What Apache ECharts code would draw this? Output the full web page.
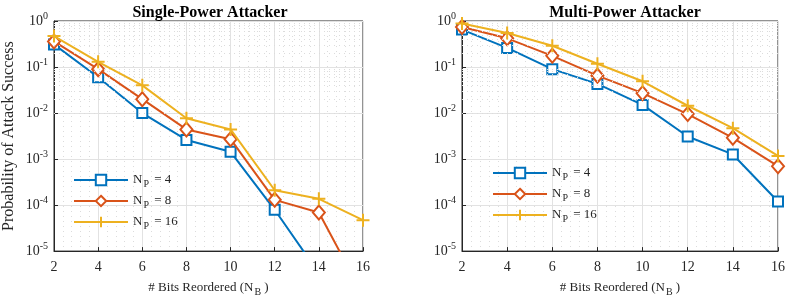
<!DOCTYPE html>
<html lang="en">
<head>
    <meta charset="UTF-8">
    <title>Attack Success</title>
    <script src="https://cdn.jsdelivr.net/npm/echarts@6.0.0/dist/echarts.min.js"></script>
    <style>
        html, body { margin: 0; padding: 0; background: #fff; }
        #chart { width: 788px; height: 302px; }
    </style>
</head>
<body>
<div id="chart"></div>
<script>
    // data
    var bits = [2, 4, 6, 8, 10, 12, 14, 16];
    var npNames = ['4', '8', '16'];
    var single4 = [0.31, 0.06, 0.010, 0.0026, 0.00144, 7.9e-5, 3.3e-6];
    var single8 = [0.36, 0.09, 0.02, 0.0044, 0.0027, 1.3e-4, 6.9e-5, 1.1e-6];
    var single16 = [0.47, 0.13, 0.04, 0.0077, 0.0044, 2.1e-4, 1.37e-4, 4.7e-5];
    var multi4 = [0.65, 0.26, 0.09, 0.043, 0.015, 0.0031, 0.00126, 1.2e-4];
    var multi8 = [0.74, 0.42, 0.175, 0.065, 0.027, 0.0095, 0.0029, 7e-4];
    var multi16 = [0.88, 0.55, 0.29, 0.118, 0.049, 0.0144, 0.0047, 0.00117];
    var titles = ['Single-Power Attacker', 'Multi-Power Attacker'];

    var colors = ['#0072BD', '#D95319', '#EDB120'];
    var symbols = ['emptyRect', 'emptyDiamond', 'path://M0,5L10,5M5,0L5,10'];
    var symbolSizes = [10, [12, 14], 13];
    var font = 'Liberation Serif, Times New Roman, serif';

    var myChart = echarts.init(document.getElementById('chart'));

    function pairs(ys) {
        var out = [];
        ys.forEach(function (y, i) { out.push([bits[i], y]); });
        return out;
    }

    // minor grid lines for the log axis (2..9 x 10^k)
    var minorLines = [];
    for (var k = -5; k < 0; k++) {
        for (var m = 2; m <= 9; m++) {
            minorLines.push({ yAxis: m * Math.pow(10, k) });
        }
    }

    function xAxisFor(idx) {
        return {
            type: 'value', gridIndex: idx, min: 2, max: 16, interval: 2,
            name: '{t|# Bits Reordered (N}{s|B}{t| )}',
            nameLocation: 'middle', nameGap: 26,
            nameTextStyle: {
                rich: {
                    t: { fontFamily: font, fontSize: 13, color: '#262626', lineHeight: 18 },
                    s: { fontFamily: font, fontSize: 10, color: '#262626', verticalAlign: 'bottom', lineHeight: 18, padding: [8, 0, 0, 1] }
                }
            },
            axisLine: { lineStyle: { color: '#262626' } },
            axisTick: { inside: true, length: 4, lineStyle: { color: '#262626' } },
            axisLabel: { fontFamily: font, fontSize: 14, color: '#262626', margin: 9 },
            splitLine: { show: true, lineStyle: { color: '#e2e2e2' } },
            minorTick: { show: false, splitNumber: 5 },
            minorSplitLine: { show: true, lineStyle: { color: '#dcdcdc', type: [1, 4] } }
        };
    }

    function yAxisFor(idx) {
        return {
            type: 'log', gridIndex: idx, logBase: 10, min: 1e-5, max: 1, splitNumber: 5,
            name: idx === 0 ? 'Probability of Attack Success' : '',
            nameLocation: 'middle', nameGap: 37,
            nameTextStyle: { fontFamily: font, fontSize: 16, color: '#262626' },
            axisLine: { show: true, lineStyle: { color: '#262626' } },
            axisTick: { inside: true, length: 4, lineStyle: { color: '#262626' } },
            axisLabel: {
                margin: 6,
                formatter: function (v) {
                    var e = Math.round(Math.log10(v));
                    return '{b|10}{e|' + e + '}';
                },
                rich: {
                    b: { fontFamily: font, fontSize: 14, color: '#262626', lineHeight: 20 },
                    e: { fontFamily: font, fontSize: 10, color: '#262626', verticalAlign: 'top', lineHeight: 20, padding: [0, 0, 6, 0] }
                }
            },
            splitLine: { show: true, lineStyle: { color: '#e2e2e2' } }
        };
    }

    var sets = [[single4, single8, single16], [multi4, multi8, multi16]];
    var series = [];
    sets.forEach(function (group, g) {
        series.push({
            type: 'line', xAxisIndex: g, yAxisIndex: g, data: [], silent: true, z: 1,
            markLine: {
                silent: true, symbol: 'none', label: { show: false },
                lineStyle: { color: '#dcdcdc', type: [1, 4], width: 1 },
                data: minorLines, animation: false
            }
        });
        group.forEach(function (ys, i) {
            series.push({
                name: 'N_P = ' + npNames[i],
                type: 'line', xAxisIndex: g, yAxisIndex: g,
                data: pairs(ys),
                symbol: symbols[i], symbolSize: symbolSizes[i],
                showAllSymbol: true, clip: true, z: 3 + i,
                lineStyle: { color: colors[i], width: 2 },
                itemStyle: { color: colors[i], borderColor: colors[i], borderWidth: 2 }
            });
        });
    });

    var legendNames = npNames.map(function (n) { return 'N_P = ' + n; });
    function legendFor(left, top) {
        return {
            data: legendNames, orient: 'vertical', left: left, top: top,
            itemWidth: 54, itemHeight: 13, itemGap: 3,
            selectedMode: false,
            formatter: function (name) {
                return '{n|N}{s|P}{n| = ' + name.split('= ')[1] + '}';
            },
            textStyle: {
                rich: {
                    n: { fontFamily: font, fontSize: 13, color: '#262626', lineHeight: 18 },
                    s: { fontFamily: font, fontSize: 10, color: '#262626', verticalAlign: 'bottom', lineHeight: 18, padding: [8, 2, 0, 1] }
                }
            }
        };
    }

    var option = {
        animation: false,
        backgroundColor: '#fff',
        title: [
            { text: titles[0], left: 205, top: 0, textAlign: 'center', textStyle: { fontFamily: font, fontSize: 16, fontWeight: 'bold', color: '#000' } },
            { text: titles[1], left: 620, top: 0, textAlign: 'center', textStyle: { fontFamily: font, fontSize: 16, fontWeight: 'bold', color: '#000' } }
        ],
        grid: [
            { left: 48, top: 21, width: 315, height: 232, show: true, borderColor: '#262626', borderWidth: 1, backgroundColor: '#fff' },
            { left: 462, top: 21, width: 317, height: 232, show: true, borderColor: '#262626', borderWidth: 1, backgroundColor: '#fff' }
        ],
        legend: [legendFor(68, 166), legendFor(487, 159)],
        xAxis: [xAxisFor(0), xAxisFor(1)],
        yAxis: [yAxisFor(0), yAxisFor(1)],
        series: series
    };

    myChart.setOption(option);
</script>
</body>
</html>
